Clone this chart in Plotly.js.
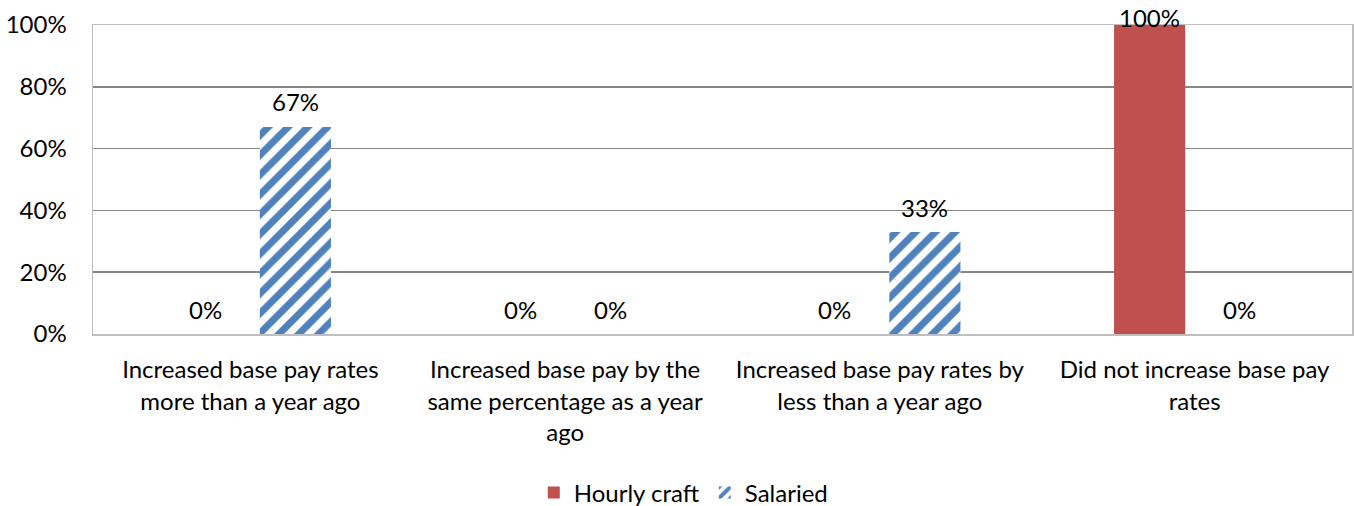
<!DOCTYPE html>
<html><head><meta charset="utf-8">
<script src="https://cdn.plot.ly/plotly-3.0.1.min.js"></script>
<style>body{margin:0;background:#fff}#c{width:1354px;height:506px}</style>
</head><body><div id="c"></div>
<script>
const categories = [
  "Increased base pay rates<br>more than a year ago",
  "Increased base pay by the<br>same percentage as a year<br>ago",
  "Increased base pay rates by<br>less than a year ago",
  "Did not increase base pay<br>rates"
];
const hourlyCraft = [0, 0, 0, 1.00];
const salaried = [0.67, 0, 0.33, 0];
const yTicks = [0, 0.2, 0.4, 0.6, 0.8, 1.0];

const font = {family: "Lato, Open Sans, sans-serif", size: 24, color: "#000"};
const plotTop = 25, plotH = 309;
const traces = [
  {type: "bar", name: "Hourly craft", x: categories, y: hourlyCraft,
   marker: {color: "#C0504D", line: {width: 0}}},
  {type: "bar", name: "Salaried", x: categories, y: salaried,
   marker: {color: "#FFFFFF", line: {width: 0},
            pattern: {shape: "/", fgcolor: "#4F81BD", bgcolor: "#FFFFFF", size: 14, solidity: 0.5}}}
];
function labels(vals, xs) {
  return vals.map((v, i) => {
    const top = plotTop + (1 - v) * plotH;
    const shift = Math.min(25, top - 17);
    return {x: categories[i], y: v, xref: "x", yref: "y", text: Math.round(v * 100) + "%",
            showarrow: false, xshift: xs, yshift: shift, yanchor: "middle", font: font};
  });
}
const layout = {
  width: 1354, height: 506,
  margin: {l: 93, r: 2, t: plotTop, b: 172},
  paper_bgcolor: "#fff", plot_bgcolor: "#fff",
  font: font,
  barmode: "group", bargap: 0.428, bargroupgap: 0.21,
  showlegend: true,
  legend: {orientation: "h", x: 0.505, xanchor: "center", xref: "container", yref: "container",
           y: 0.026, yanchor: "middle", font: font, tracegroupgap: 0},
  annotations: labels(hourlyCraft, -45).concat(labels(salaried, 45)),
  xaxis: {type: "category", showgrid: false, showline: true, linecolor: "#BFBFBF", linewidth: 1.5,
          mirror: true, ticks: "outside", ticklen: 14, tickcolor: "rgba(0,0,0,0)",
          tickfont: font, automargin: false},
  yaxis: {range: [0, 1], tickvals: yTicks, tickformat: ".0%", showgrid: true, gridcolor: "#868686",
          gridwidth: 1.5, showline: true, linecolor: "#BFBFBF", linewidth: 1.5, mirror: true,
          zeroline: false, ticks: "outside", ticklen: 20, tickcolor: "rgba(0,0,0,0)",
          tickfont: font, automargin: false}
};
Plotly.newPlot("c", traces, layout, {displayModeBar: false, staticPlot: true});
</script></body></html>
